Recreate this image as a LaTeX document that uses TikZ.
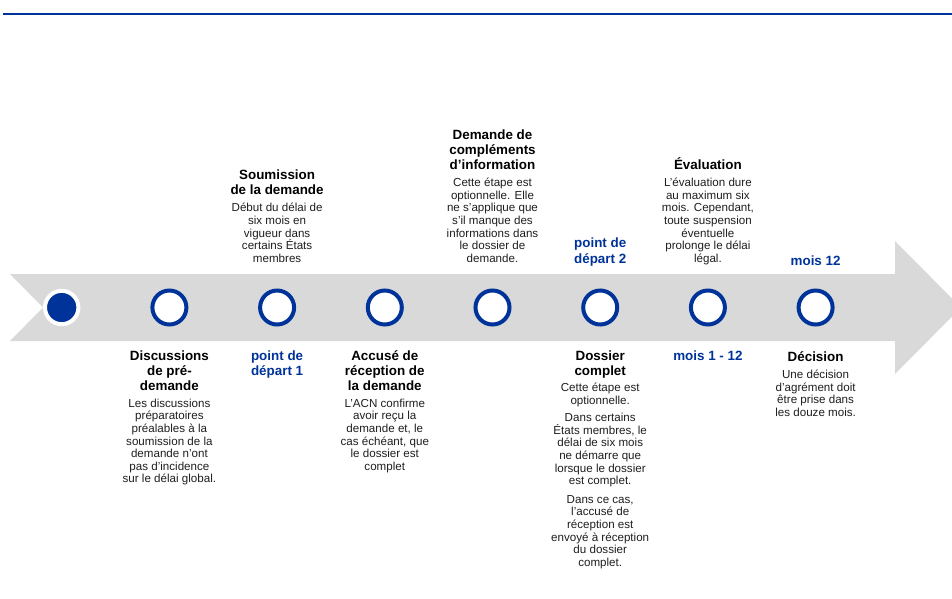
\documentclass[tikz,border=0pt]{standalone}
\usepackage{fontspec}
\setmainfont{Liberation Sans}
\definecolor{acnblue}{RGB}{0,51,153}
\definecolor{band}{RGB}{217,217,217}
\definecolor{ink}{RGB}{30,30,30}

\begin{document}
\begin{tikzpicture}[x=1pt, y=1pt,
    stage/.style = {circle, draw=acnblue, line width=4pt, fill=white, minimum size=34pt, inner sep=0pt},
    start/.style = {circle, draw=white, line width=4pt, fill=acnblue, minimum size=33.4pt, inner sep=0pt},
    hd/.style = {align=center, inner sep=0pt, font=\bfseries\fontsize{13.4}{14.8}\selectfont,
        execute at begin node=\strut, execute at end node=\strut},
    txt/.style = {align=center, inner sep=0pt, text=ink, font=\fontsize{11.6}{12.6}\selectfont,
        execute at begin node=\strut, execute at end node=\strut},
    tag/.style = {hd, text=acnblue, font=\bfseries\fontsize{13.4}{15.5}\selectfont}]
    \clip (0,0) rectangle (952,-599);

    % Rule and arrow band
    \draw[acnblue, line width=2.5pt] (3,-14) -- (952,-14);
    \fill[band] (10,-274) -- (895,-274) -- (895,-241) -- (961,-307.5) -- (895,-374)
        -- (895,-341) -- (10,-341) -- (43,-307.5) -- cycle;

    % Milestones
    \node[start] (0) at (61.7,-307.5) {};
    \node[stage] (1) at (169.4,-307.5) {};
    \node[stage] (2) at (277.1,-307.5) {};
    \node[stage] (3) at (384.8,-307.5) {};
    \node[stage] (4) at (492.5,-307.5) {};
    \node[stage] (5) at (600.2,-307.5) {};
    \node[stage] (6) at (707.9,-307.5) {};
    \node[stage] (7) at (815.6,-307.5) {};

    % Texts below the band
    \node[hd, anchor=north] (h1) at (169.4,-350.5) {Discussions\\de pré-\\demande};
    \node[txt, anchor=north] (b1) at ([yshift=-4pt]h1.south) {Les discussions\\préparatoires\\préalables à la\\soumission de la\\demande n'ont\\pas d'incidence\\sur le délai global.};

    \node[tag, anchor=north] (p1) at (277.1,-350.2) {point de\\départ 1};

    \node[hd, anchor=north] (h3) at (384.8,-350.5) {Accusé de\\réception de\\la demande};
    \node[txt, anchor=north] (b3) at ([yshift=-4pt]h3.south) {L'ACN confirme\\avoir reçu la\\demande et, le\\cas échéant, que\\le dossier est\\complet};

    \node[hd, anchor=north] (h5) at (600.2,-350.5) {Dossier\\complet};
    \node[txt, anchor=north] (b5) at ([yshift=-3pt]h5.south) {Cette étape est\\optionnelle.\\[5pt]Dans certains\\États membres, le\\délai de six mois\\ne démarre que\\lorsque le dossier\\est complet.\\[6pt]Dans ce cas,\\l'accusé de\\réception est\\envoyé à réception\\du dossier\\complet.};

    \node[tag, anchor=north] (m1) at (707.9,-349) {mois 1 - 12};

    \node[hd, anchor=north] (h7) at (815.6,-350.5) {Décision};
    \node[txt, anchor=north] (b7) at ([yshift=-4pt]h7.south) {Une décision\\d'agrément doit\\être prise dans\\les douze mois.};

    % Texts above the band
    \node[txt, anchor=south] (b2) at (277.1,-266.3) {Début du délai de\\six mois en\\vigueur dans\\certains États\\membres};
    \node[hd, anchor=south] (h2) at ([yshift=4pt]b2.north) {Soumission\\de la demande};

    \node[txt, anchor=south] (b4) at (492.5,-266.3) {Cette étape est\\optionnelle. Elle\\ne s'applique que\\s'il manque des\\informations dans\\le dossier de\\demande.};
    \node[hd, anchor=south] (h4) at ([yshift=4pt]b4.north) {Demande de\\compléments\\d'information};

    \node[tag, anchor=south] (p2) at (600.2,-268) {point de\\départ 2};

    \node[txt, anchor=south] (b6) at (707.9,-266.3) {L'évaluation dure\\au maximum six\\mois. Cependant,\\toute suspension\\éventuelle\\prolonge le délai\\légal.};
    \node[hd, anchor=south] (h6) at ([yshift=4pt]b6.north) {Évaluation};

    \node[tag, anchor=south] (m2) at (815.6,-270) {mois 12};
\end{tikzpicture}
\end{document}
